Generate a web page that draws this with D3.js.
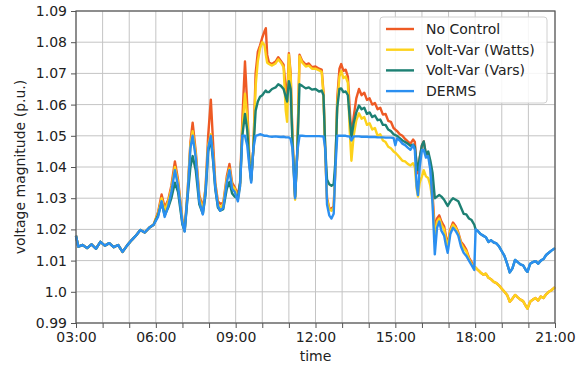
<!DOCTYPE html>
<html>
<head>
<meta charset="utf-8">
<script src="https://cdn.jsdelivr.net/npm/d3@7"></script>
<style>
  body { margin: 0; background: #fff; }
  svg { display: block; font-family: "DejaVu Sans", sans-serif; }
</style>
</head>
<body>
<svg id="chart" width="588" height="369"></svg>
<script>
// sample times (hh:mm), shared by every series
const times = [
  "03:00","03:05","03:15","03:25","03:35","03:45","03:55",
  "04:05","04:15","04:25","04:35","04:45","04:55",
  "05:05","05:15","05:25","05:35","05:45","05:55",
  "06:05","06:13","06:20","06:28","06:35","06:43","06:50",
  "07:00","07:05","07:12","07:18","07:23","07:30","07:38","07:46","07:52","07:58",
  "08:04","08:09","08:14","08:20","08:25","08:32","08:40","08:46","08:52","08:58",
  "09:05","09:10","09:15","09:21","09:26","09:31","09:35","09:40","09:45","09:50","09:55",
  "10:00","10:05","10:08","10:11","10:15","10:22","10:30","10:36","10:42","10:48","10:53","10:56",
  "11:00","11:04","11:08","11:14","11:19","11:24","11:30","11:38","11:45","11:52",
  "12:00","12:08","12:14","12:18","12:22","12:26","12:31","12:36","12:41","12:45","12:49","12:54","12:58",
  "13:03","13:08","13:13","13:17","13:21","13:26","13:32","13:38","13:44","13:50","13:56",
  "14:02","14:08","14:14","14:20","14:26","14:32","14:38","14:44","14:50","14:56",
  "15:00","15:04","15:10","15:16","15:22","15:28","15:34","15:40","15:44","15:48","15:51","15:55",
  "16:00","16:04","16:09","16:14","16:19","16:24","16:29","16:34","16:39","16:44","16:50","16:54","16:58",
  "17:04","17:10","17:16","17:22","17:28","17:34","17:40","17:46","17:52","17:58",
  "18:01","18:06","18:12","18:18","18:24","18:30","18:36","18:42","18:48","18:54",
  "19:00","19:06","19:12","19:18","19:24","19:30","19:36","19:42","19:48","19:54","19:58",
  "20:04","20:10","20:16","20:22","20:28","20:34","20:40","20:46","20:52","21:00"
];

const noControl = [
  1.0180,1.0145,1.0150,1.0140,1.0152,1.0138,1.0160,
  1.0148,1.0156,1.0143,1.0150,1.0128,1.0148,
  1.0165,1.0180,1.0198,1.0190,1.0205,1.0215,
  1.0255,1.0312,1.0270,1.0295,1.0340,1.0418,1.0360,
  1.0230,1.0200,1.0330,1.0480,1.0542,1.0450,1.0310,1.0270,1.0330,1.0500,
  1.0616,1.0480,1.0350,1.0290,1.0282,1.0285,1.0370,1.0410,1.0350,1.0335,
  1.0310,1.0350,1.0550,1.0738,1.0600,1.0420,1.0360,1.0460,1.0700,1.0770,1.0790,
  1.0815,1.0835,1.0845,1.0760,1.0735,1.0730,1.0738,1.0752,1.0740,1.0728,1.0650,1.0610,
  1.0765,1.0700,1.0500,1.0305,1.0450,1.0760,1.0740,1.0728,1.0732,1.0720,
  1.0722,1.0715,1.0712,1.0640,1.0450,1.0300,1.0268,1.0265,1.0275,1.0400,1.0620,1.0715,1.0730,
  1.0708,1.0712,1.0690,1.0590,1.0495,1.0560,1.0620,1.0650,1.0630,1.0638,1.0615,
  1.0620,1.0600,1.0605,1.0585,1.0590,1.0568,1.0570,1.0548,1.0545,1.0525,
  1.0520,1.0515,1.0505,1.0500,1.0490,1.0482,1.0475,1.0488,1.0480,1.0400,1.0380,1.0430,
  1.0470,1.0482,1.0440,1.0445,1.0400,1.0310,1.0200,1.0235,1.0245,1.0225,1.0210,1.0180,1.0150,
  1.0200,1.0222,1.0210,1.0190,1.0160,1.0150,1.0135,1.0110,1.0095,1.0080,
  1.0078,1.0070,1.0062,1.0055,1.0058,1.0045,1.0040,1.0032,1.0028,1.0020,
  1.0010,1.0000,0.9990,0.9968,0.9978,0.9990,0.9982,0.9975,0.9970,0.9955,0.9946,
  0.9968,0.9975,0.9980,0.9972,0.9985,0.9980,0.9992,1.0000,1.0005,1.0015
];

const voltVarWatts = [
  1.0180,1.0145,1.0150,1.0140,1.0152,1.0138,1.0160,
  1.0148,1.0156,1.0143,1.0150,1.0128,1.0148,
  1.0165,1.0180,1.0198,1.0190,1.0205,1.0215,
  1.0250,1.0300,1.0260,1.0290,1.0330,1.0400,1.0350,
  1.0225,1.0195,1.0330,1.0470,1.0515,1.0440,1.0300,1.0260,1.0330,1.0470,
  1.0505,1.0440,1.0340,1.0280,1.0270,1.0280,1.0360,1.0395,1.0340,1.0330,
  1.0300,1.0340,1.0520,1.0635,1.0560,1.0420,1.0360,1.0460,1.0660,1.0740,1.0780,
  1.0800,1.0790,1.0760,1.0735,1.0730,1.0725,1.0732,1.0745,1.0735,1.0720,1.0580,1.0545,
  1.0760,1.0690,1.0490,1.0295,1.0450,1.0755,1.0735,1.0722,1.0725,1.0715,
  1.0715,1.0710,1.0705,1.0630,1.0440,1.0295,1.0265,1.0260,1.0270,1.0400,1.0600,1.0690,1.0708,
  1.0685,1.0690,1.0670,1.0520,1.0420,1.0500,1.0550,1.0572,1.0555,1.0560,1.0535,
  1.0540,1.0520,1.0525,1.0500,1.0505,1.0485,1.0480,1.0465,1.0460,1.0450,
  1.0446,1.0440,1.0430,1.0420,1.0418,1.0410,1.0405,1.0412,1.0400,1.0330,1.0305,1.0350,
  1.0370,1.0390,1.0370,1.0365,1.0340,1.0290,1.0170,1.0225,1.0235,1.0215,1.0200,1.0170,1.0140,
  1.0195,1.0215,1.0205,1.0185,1.0155,1.0140,1.0130,1.0105,1.0090,1.0075,
  1.0078,1.0070,1.0062,1.0055,1.0058,1.0045,1.0040,1.0032,1.0028,1.0020,
  1.0010,1.0000,0.9990,0.9968,0.9978,0.9990,0.9982,0.9975,0.9970,0.9955,0.9946,
  0.9968,0.9975,0.9980,0.9972,0.9985,0.9980,0.9992,1.0000,1.0005,1.0015
];

const voltVarVars = [
  1.0180,1.0145,1.0150,1.0140,1.0152,1.0138,1.0160,
  1.0148,1.0156,1.0143,1.0150,1.0128,1.0148,
  1.0165,1.0180,1.0198,1.0190,1.0205,1.0215,
  1.0245,1.0285,1.0245,1.0270,1.0300,1.0350,1.0320,
  1.0215,1.0195,1.0310,1.0400,1.0435,1.0390,1.0280,1.0250,1.0310,1.0450,
  1.0490,1.0420,1.0330,1.0270,1.0260,1.0265,1.0330,1.0352,1.0315,1.0305,
  1.0300,1.0350,1.0500,1.0570,1.0520,1.0410,1.0355,1.0460,1.0580,1.0610,1.0625,
  1.0630,1.0640,1.0645,1.0640,1.0640,1.0650,1.0655,1.0665,1.0660,1.0650,1.0625,1.0610,
  1.0675,1.0650,1.0480,1.0305,1.0450,1.0665,1.0660,1.0652,1.0655,1.0648,
  1.0650,1.0642,1.0645,1.0630,1.0460,1.0360,1.0345,1.0340,1.0345,1.0420,1.0590,1.0650,1.0652,
  1.0640,1.0642,1.0630,1.0560,1.0495,1.0540,1.0575,1.0597,1.0585,1.0590,1.0570,
  1.0575,1.0560,1.0565,1.0550,1.0552,1.0535,1.0535,1.0520,1.0515,1.0505,
  1.0502,1.0500,1.0492,1.0485,1.0480,1.0475,1.0468,1.0472,1.0465,1.0410,1.0390,1.0430,
  1.0470,1.0482,1.0440,1.0450,1.0420,1.0380,1.0300,1.0305,1.0310,1.0305,1.0295,1.0285,1.0275,
  1.0290,1.0300,1.0295,1.0290,1.0270,1.0250,1.0248,1.0235,1.0230,1.0215,
  1.0200,1.0195,1.0185,1.0180,1.0175,1.0160,1.0165,1.0158,1.0155,1.0145,
  1.0130,1.0115,1.0090,1.0062,1.0075,1.0102,1.0095,1.0088,1.0085,1.0070,1.0064,
  1.0090,1.0095,1.0098,1.0090,1.0100,1.0105,1.0118,1.0125,1.0132,1.0140
];

const derms = [
  1.0180,1.0145,1.0150,1.0140,1.0152,1.0138,1.0160,
  1.0148,1.0156,1.0143,1.0150,1.0128,1.0148,
  1.0165,1.0180,1.0198,1.0190,1.0205,1.0215,
  1.0240,1.0290,1.0240,1.0275,1.0320,1.0390,1.0340,
  1.0220,1.0193,1.0320,1.0460,1.0500,1.0430,1.0290,1.0248,1.0320,1.0460,
  1.0500,1.0430,1.0335,1.0275,1.0260,1.0270,1.0350,1.0390,1.0330,1.0320,
  1.0290,1.0340,1.0500,1.0500,1.0470,1.0400,1.0350,1.0460,1.0500,1.0502,1.0505,
  1.0503,1.0500,1.0500,1.0500,1.0498,1.0497,1.0498,1.0497,1.0496,1.0497,1.0495,1.0495,
  1.0495,1.0490,1.0460,1.0300,1.0450,1.0500,1.0500,1.0499,1.0499,1.0499,
  1.0499,1.0499,1.0498,1.0498,1.0460,1.0280,1.0245,1.0235,1.0250,1.0400,1.0500,1.0500,1.0500,
  1.0500,1.0500,1.0498,1.0498,1.0485,1.0498,1.0498,1.0498,1.0497,1.0497,1.0497,
  1.0496,1.0496,1.0496,1.0495,1.0495,1.0495,1.0494,1.0494,1.0494,1.0493,
  1.0470,1.0492,1.0485,1.0475,1.0470,1.0462,1.0455,1.0470,1.0455,1.0340,1.0310,1.0400,
  1.0455,1.0455,1.0430,1.0435,1.0390,1.0280,1.0120,1.0205,1.0225,1.0195,1.0180,1.0150,1.0125,
  1.0185,1.0205,1.0195,1.0180,1.0145,1.0125,1.0115,1.0100,1.0085,1.0070,
  1.0200,1.0195,1.0185,1.0180,1.0175,1.0160,1.0165,1.0158,1.0155,1.0145,
  1.0130,1.0115,1.0090,1.0062,1.0075,1.0102,1.0095,1.0088,1.0085,1.0070,1.0064,
  1.0090,1.0095,1.0098,1.0090,1.0100,1.0105,1.0118,1.0125,1.0132,1.0140
];

const seriesNames = ["No Control", "Volt-Var (Watts)", "Volt-Var (Vars)", "DERMS"];
const seriesColors = ["#ee5a24", "#fdd21b", "#1d8073", "#2b8ff0"];
const xTickHours = d3.range(3, 22, 1);
const xLabelHours = [3, 6, 9, 12, 15, 18, 21];
const yTicks = [0.99, 1.0, 1.01, 1.02, 1.03, 1.04, 1.05, 1.06, 1.07, 1.08, 1.09];

const width = 588, height = 369;
const margin = { top: 11, right: 33, bottom: 46, left: 76 };
const innerW = width - margin.left - margin.right;
const innerH = height - margin.top - margin.bottom;

const toHours = s => { const [h, m] = s.split(':').map(Number); return h + m / 60; };
const hours = times.map(toHours);

const x = d3.scaleLinear().domain([3, 21]).range([0, innerW]);
const y = d3.scaleLinear().domain([0.99, 1.09]).range([innerH, 0]);

const svg = d3.select('#chart');
const g = svg.append('g').attr('transform', `translate(${margin.left},${margin.top})`);

// grid
g.append('g').selectAll('line').data(xTickHours).enter().append('line')
  .attr('x1', d => x(d)).attr('x2', d => x(d)).attr('y1', 0).attr('y2', innerH)
  .attr('stroke', '#c4c4c4').attr('stroke-width', 1);
g.append('g').selectAll('line').data(yTicks).enter().append('line')
  .attr('x1', 0).attr('x2', innerW).attr('y1', d => y(d)).attr('y2', d => y(d))
  .attr('stroke', '#c4c4c4').attr('stroke-width', 1);

// lines
const allSeries = [noControl, voltVarWatts, voltVarVars, derms];
const line = d3.line().x((d, i) => x(hours[i])).y(d => y(d));
allSeries.forEach((vals, k) => {
  g.append('path').datum(vals)
    .attr('d', line)
    .attr('fill', 'none')
    .attr('stroke', seriesColors[k])
    .attr('stroke-width', 2.4)
    .attr('stroke-linejoin', 'round');
});

// axes
const fmtHour = h => (h < 10 ? '0' : '') + h + ':00';
const xAxis = g.append('g').attr('transform', `translate(0,${innerH})`)
  .call(d3.axisBottom(x).tickValues(xTickHours).tickSize(5).tickPadding(4)
    .tickFormat(h => xLabelHours.includes(h) ? fmtHour(h) : ''));
const yAxis = g.append('g')
  .call(d3.axisLeft(y).tickValues(yTicks).tickSize(5).tickPadding(4)
    .tickFormat(d => d === 1 ? '1.0' : d3.format('.2f')(d)));
[xAxis, yAxis].forEach(a => {
  a.select('.domain').remove();
  a.selectAll('line').attr('stroke', '#555');
  a.selectAll('text').attr('fill', '#222').style('font-size', '14px')
    .style('font-family', '"DejaVu Sans", sans-serif');
});

// frame
g.append('rect').attr('width', innerW).attr('height', innerH)
  .attr('fill', 'none').attr('stroke', '#555').attr('stroke-width', 1.2);

// axis titles
svg.append('text').attr('x', margin.left + innerW / 2).attr('y', 361)
  .attr('text-anchor', 'middle').attr('fill', '#222').style('font-size', '14px').text('time');
svg.append('text')
  .attr('transform', `translate(21,${margin.top + innerH / 2}) rotate(-90)`)
  .attr('text-anchor', 'middle').attr('dominant-baseline', 'middle')
  .attr('fill', '#222').style('font-size', '14px').text('voltage magnitude (p.u.)');

// legend
const lg = svg.append('g').attr('transform', 'translate(380,17)');
lg.append('rect').attr('width', 167).attr('height', 86).attr('rx', 3)
  .attr('fill', 'rgba(255,255,255,0.85)').attr('stroke', '#d0d0d0');
seriesNames.forEach((name, k) => {
  const cy = 12 + k * 20.7;
  lg.append('line').attr('x1', 6).attr('x2', 34).attr('y1', cy).attr('y2', cy)
    .attr('stroke', seriesColors[k]).attr('stroke-width', 2.4);
  lg.append('text').attr('x', 46).attr('y', cy).attr('dominant-baseline', 'central')
    .attr('fill', '#222').style('font-size', '14px').text(name);
});
</script>
</body>
</html>
